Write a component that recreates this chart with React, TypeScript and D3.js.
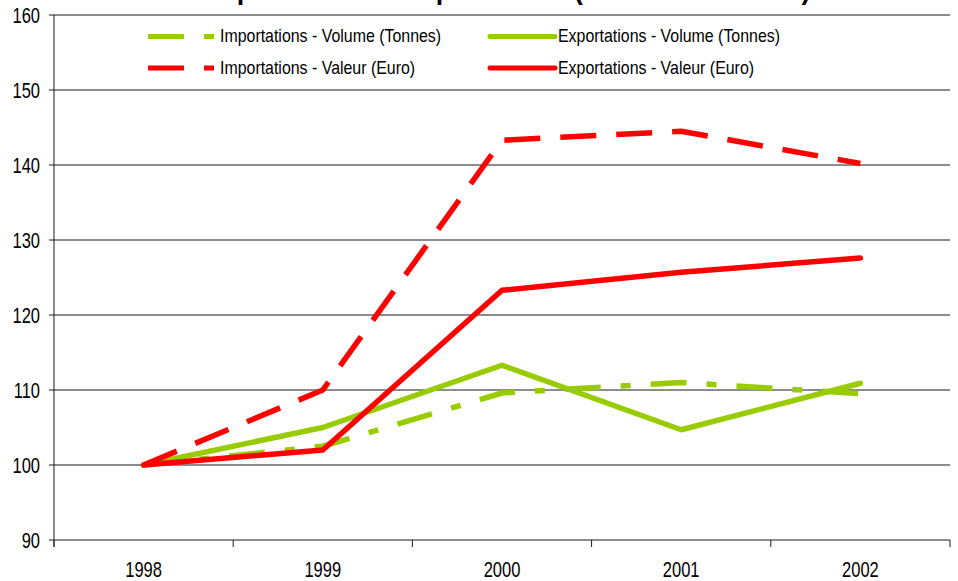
import * as d3 from 'd3';

const years = ['1998', '1999', '2000', '2001', '2002'];
const importVolume = [100, 102.5, 109.6, 111.0, 109.5];
const exportVolume = [100, 105.0, 113.3, 104.7, 110.9];
const importValue = [100, 110.0, 143.3, 144.5, 140.2];
const exportValue = [100, 102.0, 123.3, 125.7, 127.6];
const yTicks = [90, 100, 110, 120, 130, 140, 150, 160];

const GREEN = '#99CC00';
const RED = '#FF0000';

const series = [
  { name: 'Importations - Volume (Tonnes)', values: importVolume, color: GREEN, dash: '36,20,10,20' },
  { name: 'Exportations - Volume (Tonnes)', values: exportVolume, color: GREEN, dash: null },
  { name: 'Importations - Valeur (Euro)', values: importValue, color: RED, dash: '36,20' },
  { name: 'Exportations - Valeur (Euro)', values: exportValue, color: RED, dash: null },
];

const FONT = '"Liberation Sans", Arial, sans-serif';

const App = () => {
  const width = 958;
  const height = 581;
  const margins = { top: 15, right: 8, bottom: 41, left: 54 };

  const xScale = d3
    .scaleBand()
    .domain(years)
    .range([margins.left, width - margins.right])
    .padding(0);
  const yScale = d3
    .scaleLinear()
    .domain([90, 160])
    .range([height - margins.bottom, margins.top]);

  const line = d3
    .line<number>()
    .x((_, i) => (xScale(years[i]) || 0) + xScale.bandwidth() / 2)
    .y(d => yScale(d));

  const bottom = yScale(90);
  const boundaries = years.map(y => xScale(y) || 0).concat([width - margins.right]);

  // legend layout: 2 columns x 2 rows
  const legendCols = [148, 488];
  const legendRows = [36.5, 68];

  return (
    <svg
      width={width}
      height={height}
      viewBox={`0 0 ${width} ${height}`}
      style={{ position: 'absolute', left: 0, top: 0, background: '#fff' }}
      fontFamily={FONT}
    >
      {/* title is mostly cropped off the top, as in the source image */}
      <text
        x={508}
        y={-1}
        textAnchor="middle"
        fontWeight="bold"
        fontSize={27}
        textLength={605}
        lengthAdjust="spacingAndGlyphs"
      >
        Importations et exportations (base 100 en 1998)
      </text>

      {yTicks.map(t => (
        <g key={t}>
          <line
            x1={margins.left - 5}
            x2={width - margins.right}
            y1={yScale(t)}
            y2={yScale(t)}
            stroke="#1a1a1a"
            strokeWidth={1}
          />
          <text
            transform={`translate(${40},${yScale(t) + 8}) scale(0.75,1)`}
            textAnchor="end"
            fontSize={22}
            fill="#000"
          >
            {t}
          </text>
        </g>
      ))}

      <line x1={margins.left} x2={margins.left} y1={margins.top} y2={bottom + 7} stroke="#1a1a1a" />
      {boundaries.map((b, i) => (
        <line key={i} x1={b} x2={b} y1={bottom} y2={bottom + 7} stroke="#1a1a1a" />
      ))}
      {years.map(y => (
        <text
          key={y}
          transform={`translate(${(xScale(y) || 0) + xScale.bandwidth() / 2},${577}) scale(0.75,1)`}
          textAnchor="middle"
          fontSize={22}
          fill="#000"
        >
          {y}
        </text>
      ))}

      {series.map(s => (
        <path
          key={s.name}
          d={line(s.values) || ''}
          fill="none"
          stroke={s.color}
          strokeWidth={5.5}
          strokeDasharray={s.dash || undefined}
          strokeLinejoin="round"
          strokeLinecap={s.dash ? 'butt' : 'round'}
        />
      ))}

      {series.map((s, i) => {
        const x0 = legendCols[i % 2];
        const y0 = legendRows[Math.floor(i / 2)];
        const lineEnd = s.dash ? x0 + 67 : x0 + 69;
        return (
          <g key={s.name}>
            <line
              x1={s.dash ? x0 : x0 + 2}
              x2={s.dash ? lineEnd : lineEnd - 2}
              y1={y0}
              y2={y0}
              stroke={s.color}
              strokeWidth={5}
              strokeDasharray={s.dash ? '36,20,10,20' : undefined}
              strokeLinecap={s.dash ? 'butt' : 'round'}
            />
            <text
              transform={`translate(${s.dash ? x0 + 72 : x0 + 70},${y0 + 5.5}) scale(0.91,1)`}
              fontSize={17.5}
              fill="#000"
            >
              {s.name}
            </text>
          </g>
        );
      })}
    </svg>
  );
};

export default App;
